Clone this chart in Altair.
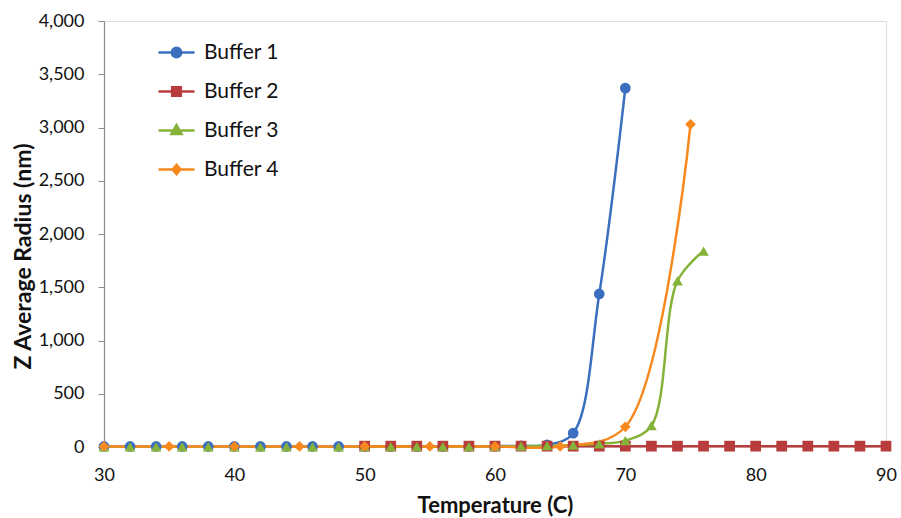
import altair as alt
import pandas as pd

series_names = ["Buffer 1", "Buffer 2", "Buffer 3", "Buffer 4"]
colors = ["#3A6EBF", "#B83C3C", "#86B23A", "#F7891F"]

temp_b1 = [30, 32, 34, 36, 38, 40, 42, 44, 46, 48, 50, 52, 54, 56, 58, 60, 62, 64, 66, 68, 70]
rad_b1 = [5, 5, 5, 5, 5, 5, 5, 5, 5, 5, 5, 5, 5, 5, 5, 8, 10, 20, 130, 1437, 3370]

temp_b2 = [50, 52, 54, 56, 58, 60, 62, 64, 66, 68, 70, 72, 74, 76, 78, 80, 82, 84, 86, 88, 90]
rad_b2 = [8, 8, 8, 8, 8, 8, 8, 8, 8, 8, 8, 8, 8, 8, 8, 8, 8, 8, 8, 8, 8]

temp_b3 = [30, 32, 34, 36, 38, 40, 42, 44, 46, 48, 50, 52, 54, 56, 58, 60, 62, 64, 66, 68, 70, 72, 74, 76]
rad_b3 = [2, 2, 2, 2, 2, 2, 2, 2, 2, 2, 3, 3, 3, 3, 4, 5, 8, 12, 18, 30, 60, 200, 1560, 1840]

temp_b4 = [30, 35, 40, 45, 50, 55, 60, 65, 70, 75]
rad_b4 = [5, 5, 5, 5, 5, 5, 5, 5, 190, 3030]

rows = []
for name, ts, vs in zip(series_names, [temp_b1, temp_b2, temp_b3, temp_b4], [rad_b1, rad_b2, rad_b3, rad_b4]):
    for t, v in zip(ts, vs):
        rows.append({"series": name, "temp": t, "radius": v})
df = pd.DataFrame(rows)

plot_shapes = ["circle", "square", "triangle-up", "diamond"]
legend_shapes = [
    "M-1,0 L1,0 M0.26,0 A0.26,0.26 0 1,1 -0.26,0 A0.26,0.26 0 1,1 0.26,0 Z",
    "M-1,0 L1,0 M-0.24,-0.24 L0.24,-0.24 L0.24,0.24 L-0.24,0.24 Z",
    "M-1,0 L1,0 M0,-0.3 L0.28,0.2 L-0.28,0.2 Z",
    "M-1,0 L1,0 M0,-0.26 L0.22,0 L0,0.26 L-0.22,0 Z",
]

FONT = "Lato"
TXT = "#111111"

x_enc = alt.X("temp:Q", title="Temperature (C)",
              scale=alt.Scale(domain=[30, 90], nice=False, zero=False),
              axis=alt.Axis(values=[30, 40, 50, 60, 70, 80, 90], grid=False,
                            domain=False, ticks=False, labelPadding=19, labelFlush=False,
                            labelFontSize=18, labelColor=TXT, labelFont=FONT,
                            titleFontSize=22, titleFont=FONT, titleFontWeight="bold",
                            titleColor=TXT, titlePadding=11))
y_enc = alt.Y("radius:Q", title="Z Average Radius (nm)",
              scale=alt.Scale(domain=[0, 4000], nice=False),
              axis=alt.Axis(values=[0, 500, 1000, 1500, 2000, 2500, 3000, 3500, 4000],
                            format=",.0f", grid=False, domain=True, domainColor="#8c8c8c",
                            domainWidth=1.2, ticks=True, tickSize=6, tickColor="#8c8c8c",
                            labelPadding=14, labelFontSize=18, labelColor=TXT, labelFont=FONT,
                            labelFlush=False,
                            titleFontSize=23, titleFont=FONT, titleFontWeight="bold",
                            titleColor=TXT, titlePadding=3, titleY=235))

color_plain = alt.Color("series:N", scale=alt.Scale(domain=series_names, range=colors), legend=None)

leg = alt.Legend(title=None, orient="none", legendX=53, legendY=12,
                 symbolSize=1296, symbolStrokeWidth=2.5,
                 labelFontSize=21, labelFont=FONT,
                 labelColor=TXT, labelOffset=8, rowPadding=9, padding=0)

legend_layer = alt.Chart(df).mark_point(
    filled=False, strokeWidth=1, size=4, opacity=1
).encode(
    x=x_enc, y=y_enc,
    fill=alt.Fill("series:N", scale=alt.Scale(domain=series_names, range=colors), legend=leg),
    stroke=alt.Stroke("series:N", scale=alt.Scale(domain=series_names, range=colors), legend=leg),
    shape=alt.Shape("series:N", scale=alt.Scale(domain=series_names, range=legend_shapes), legend=leg),
)

lines = alt.Chart(df).mark_line(interpolate="catmull-rom", strokeWidth=2.5).encode(
    x=x_enc, y=y_enc, color=color_plain, detail="series:N"
)

point_layers = []
for name, shp in zip(series_names, plot_shapes):
    point_layers.append(
        alt.Chart(df).transform_filter(alt.datum.series == name).mark_point(
            filled=True, size=115, opacity=1, shape=shp
        ).encode(x=x_enc, y=y_enc, color=color_plain)
    )

chart = alt.layer(legend_layer, lines, *point_layers).properties(
    width=782, height=426,
    autosize=alt.AutoSizeParams(type="none"),
    padding={"left": 104, "top": 21, "right": 15, "bottom": 71},
).configure_view(stroke=None).configure(background="white")

chart.save("out.html", embed_options={"renderer": "svg", "actions": False})
